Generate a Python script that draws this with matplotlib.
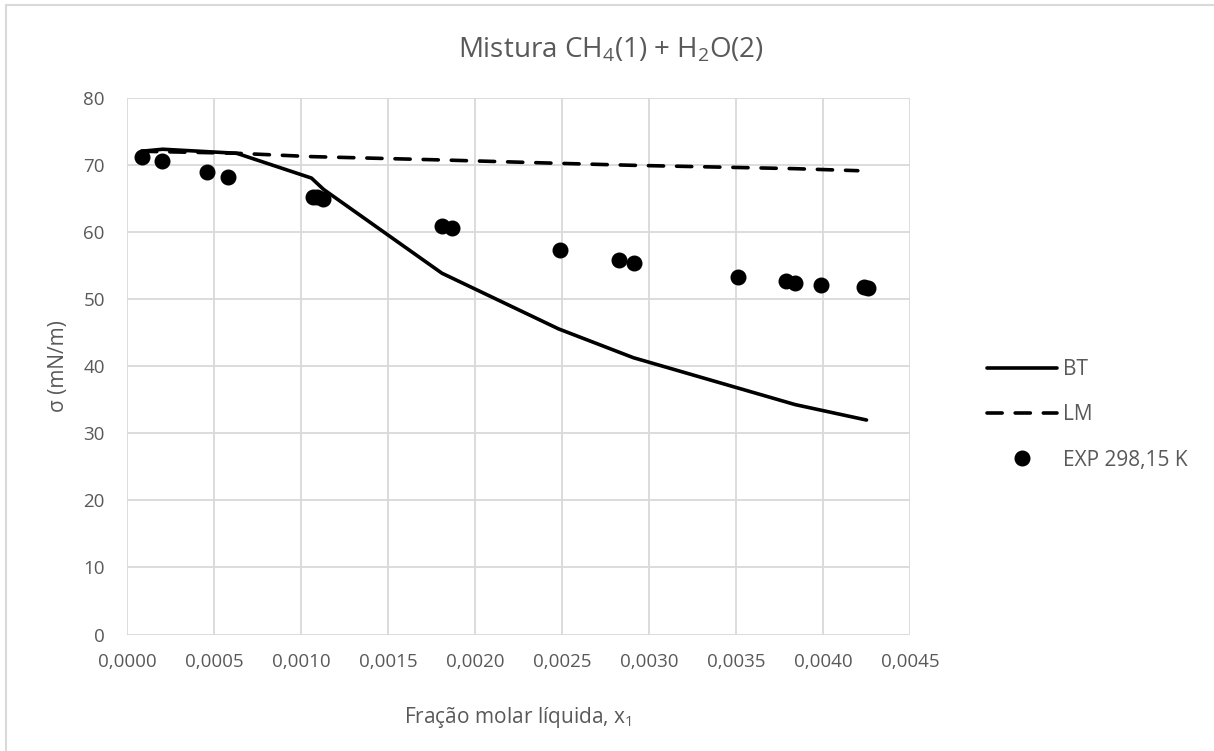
import matplotlib
matplotlib.use("Agg")
import matplotlib.pyplot as plt
from matplotlib.patches import Rectangle
from matplotlib.ticker import FuncFormatter

plt.rcParams['font.family'] = ['Open Sans', 'DejaVu Sans']
plt.rcParams['mathtext.fontset'] = 'custom'
plt.rcParams['mathtext.rm'] = 'Open Sans'
plt.rcParams['mathtext.it'] = 'Open Sans:italic'
plt.rcParams['mathtext.bf'] = 'Open Sans:bold'

# Experimental surface tension, 298.15 K
exp_x = [0.000088, 0.000204, 0.000458, 0.000580, 0.001068, 0.001090, 0.001125,
         0.001813, 0.001865, 0.002490, 0.002825, 0.002913, 0.003510, 0.003790,
         0.003840, 0.003990, 0.004235, 0.004258]
exp_y = [71.3, 70.7, 69.0, 68.3, 65.2, 65.3, 65.0,
         61.0, 60.6, 57.4, 55.9, 55.4, 53.4, 52.8,
         52.5, 52.2, 51.8, 51.7]

# BT model
bt_x = [0.000084, 0.000205, 0.000630, 0.001060, 0.001130, 0.001810, 0.002480,
        0.002910, 0.003840, 0.004250]
bt_y = [72.1, 72.4, 71.8, 68.1, 66.4, 53.9, 45.6, 41.3, 34.3, 32.0]

# LM model
lm_x = [0.000084, 0.000630, 0.001060, 0.001810, 0.002480, 0.002910, 0.003840, 0.004200]
lm_y = [72.1, 71.8, 71.3, 70.8, 70.3, 70.0, 69.5, 69.2]

x_ticks = [i * 0.0005 for i in range(10)]
y_ticks = list(range(0, 90, 10))

GREY = '#595959'
W, H = 1214, 751
fig = plt.figure(figsize=(W / 100, H / 100), dpi=100)
fig.patch.set_facecolor('white')

# chart frame
fig.patches.append(Rectangle((5.5 / W, -0.2), 1.2, 1.2 - 4.5 / H,
                             transform=fig.transFigure, fill=False,
                             edgecolor='#d9d9d9', linewidth=1.5))

ax = fig.add_axes([127 / W, 1 - 634.5 / H, (910 - 127) / W, (634.5 - 98.3) / H])
ax.set_xlim(0, 0.0045)
ax.set_ylim(0, 80)
ax.set_xticks(x_ticks)
ax.set_yticks(y_ticks)
ax.xaxis.set_major_formatter(FuncFormatter(lambda v, p: f"{v:.4f}".replace('.', ',')))
ax.grid(True, color='#d9d9d9', linewidth=1.3)
ax.set_axisbelow(True)
for s in ax.spines.values():
    s.set_visible(False)
ax.tick_params(length=0, labelsize=13.5, colors=GREY)
ax.tick_params(axis='x', pad=13)
ax.tick_params(axis='y', pad=16)

ax.plot(bt_x, bt_y, color='black', linewidth=2.6, label='BT', solid_capstyle='round')
ax.plot(lm_x, lm_y, color='black', linewidth=2.6, linestyle=(0, (4.2, 3.6)), label='LM',
        dash_capstyle='round')
ax.plot(exp_x, exp_y, linestyle='none', marker='o', markersize=10.5, color='black',
        label='EXP 298,15 K')

fig.text(611 / W, 1 - 50 / H, 'Mistura CH$_4$(1) + H$_2$O(2)', fontsize=20,
         color=GREY, ha='center', va='center')
ax.set_xlabel('Fração molar líquida, x$_1$', fontsize=15, color=GREY, labelpad=25)
ax.set_ylabel('σ (mN/m)', fontsize=15, color=GREY, labelpad=10)

leg = ax.legend(loc='center left', bbox_to_anchor=(968 / W, 1 - 415 / H),
                bbox_transform=fig.transFigure, frameon=False, fontsize=15,
                handlelength=3.36, handletextpad=0.3, labelspacing=1.16)
for t in leg.get_texts():
    t.set_color(GREY)

fig.savefig('out.png', dpi=100, facecolor='white')
